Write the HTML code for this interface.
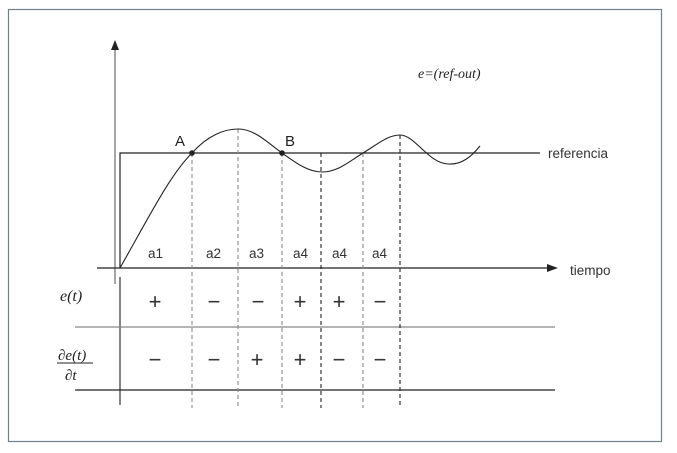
<!DOCTYPE html>
<html><head><style>body{margin:0;background:#fff}svg{display:block}</style></head><body>
<svg width="677" height="453" viewBox="0 0 677 453" xmlns="http://www.w3.org/2000/svg" font-family="Liberation Sans, sans-serif">
<rect x="8.5" y="9.5" width="653" height="432" fill="none" stroke="#6e8089" stroke-width="1.2"/>
<line x1="115" y1="48" x2="115" y2="284" stroke="#888" stroke-width="1.5"/>
<polygon points="115,40 111,50 119,50" fill="#222"/>
<line x1="97" y1="268" x2="548" y2="268" stroke="#222" stroke-width="1.2"/>
<polygon points="558,268 547,264 547,272" fill="#222"/>
<line x1="120" y1="277" x2="120" y2="405" stroke="#333" stroke-width="1.2"/>
<polyline points="120,268 120,153 540,153" fill="none" stroke="#222" stroke-width="1.2"/>
<line x1="75" y1="327" x2="555" y2="327" stroke="#888" stroke-width="1.2"/>
<line x1="75" y1="390" x2="555" y2="390" stroke="#222" stroke-width="1.2"/>
<g stroke-dasharray="4,3" stroke-width="1.1">
<line x1="192" y1="153" x2="192" y2="408" stroke="#888"/>
<line x1="238" y1="129" x2="238" y2="408" stroke="#888"/>
<line x1="282" y1="153" x2="282" y2="408" stroke="#888"/>
<line x1="321" y1="153" x2="321" y2="408" stroke="#222"/>
<line x1="363" y1="153" x2="363" y2="408" stroke="#888"/>
<line x1="400" y1="135" x2="400" y2="408" stroke="#222"/>
</g>
<path d="M120,268 C150,215 170,175 192,153 C208,135 225,129 238,129 C255,129 268,143 282,153 C296,163 308,172 322,172 C338,172 350,161 363,153 C378,144 388,135 400,135 C415,135 428,163 448,164 C462,165 472,156 480,146" fill="none" stroke="#222" stroke-width="1.1"/>
<circle cx="192" cy="153" r="2.8" fill="#222"/>
<circle cx="282" cy="153" r="2.8" fill="#222"/>
<g font-size="15" fill="#222"><text x="175" y="146">A</text><text x="285" y="146">B</text></g>
<g font-size="13.5" fill="#333"><text x="548" y="158">referencia</text><text x="570" y="275">tiempo</text>
<text x="148" y="258">a1</text><text x="206" y="258">a2</text><text x="249" y="258">a3</text><text x="293" y="258">a4</text><text x="332" y="258">a4</text><text x="372" y="258">a4</text></g>
<text x="418" y="78" font-family="Liberation Serif, serif" font-style="italic" font-size="14" fill="#222">e=(ref-out)</text>
<text x="60" y="301" font-family="Liberation Serif, serif" font-style="italic" font-size="16" fill="#222">e(t)</text>
<text x="58" y="360" font-family="Liberation Serif, serif" font-style="italic" font-size="15" fill="#222">∂e(t)</text>
<line x1="57" y1="363" x2="93" y2="363" stroke="#222" stroke-width="1"/>
<text x="65" y="380" font-family="Liberation Serif, serif" font-style="italic" font-size="15" fill="#222">∂t</text>
<g font-family="Liberation Sans, sans-serif" font-size="22" fill="#333" text-anchor="middle">
<text x="155" y="309">+</text><text x="214" y="309">−</text><text x="258" y="309">−</text><text x="300" y="309">+</text><text x="339" y="309">+</text><text x="380" y="309">−</text>
<text x="155" y="367">−</text><text x="214" y="367">−</text><text x="257" y="367">+</text><text x="300" y="367">+</text><text x="339" y="367">−</text><text x="380" y="367">−</text>
</g>
</svg>
</body></html>
